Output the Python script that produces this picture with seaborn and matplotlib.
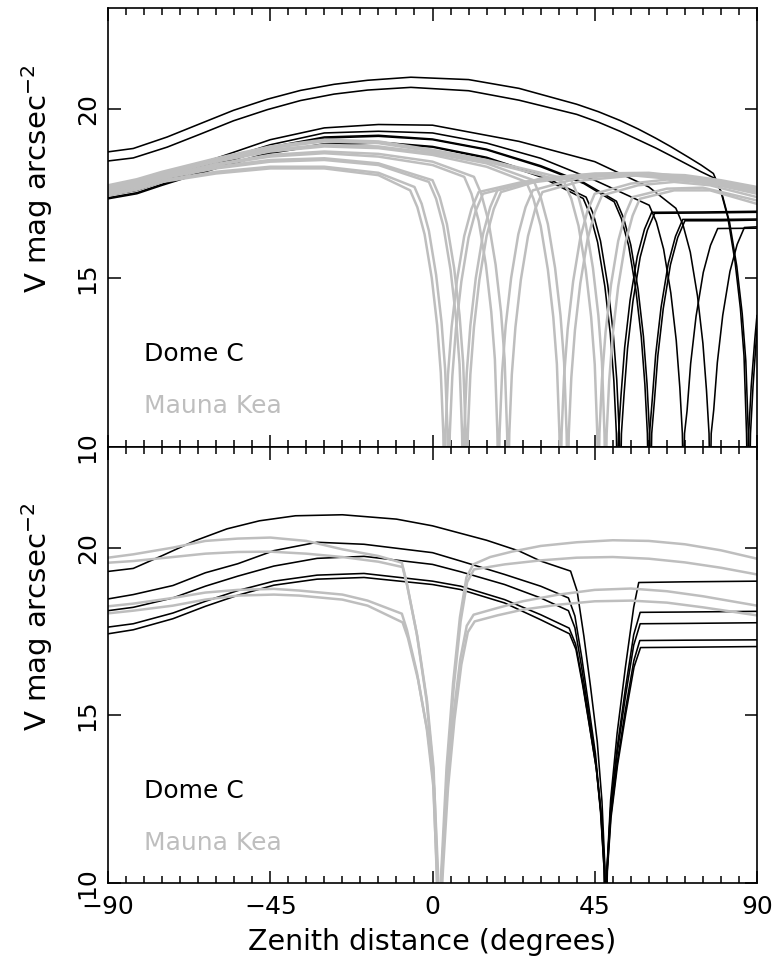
import matplotlib
matplotlib.use("Agg")
import matplotlib.pyplot as plt
import pandas as pd
import seaborn as sns
from matplotlib.ticker import MultipleLocator

# ---------------- top panel : Dome C (black) ----------------
top_dc_a_zd = [-90, -82, -75, -60, -45, -30, -15, 0, 15, 30, 41.8, 43.8, 45.8, 47.8, 49.3, 50.3, 51.0, 51.3,
               51.6, 52.3, 53.3, 54.8, 56.8, 58.8, 60.8, 75, 90]
top_dc_a_v = [17.35, 17.5, 17.75, 18.25, 18.7, 18.95, 19.0, 18.88, 18.55, 18.0, 17.36, 16.86, 16.06, 14.76,
              13.36, 11.96, 10.4, 8.5, 10.4, 11.55, 12.95, 14.35, 15.65, 16.45, 16.95, 16.96, 16.98]

top_dc_b_zd = [-90, -82, -75, -60, -45, -30, -15, 0, 15, 30, 42.6, 44.6, 46.6, 48.6, 50.1, 51.1, 51.8, 52.1,
               52.4, 53.1, 54.1, 55.6, 57.6, 59.6, 61.6, 75, 90]
top_dc_b_v = [17.38, 17.53, 17.78, 18.28, 18.72, 18.98, 19.03, 18.9, 18.58, 18.05, 17.4, 16.9, 16.1, 14.8,
              13.4, 12.0, 10.4, 8.5, 10.4, 11.52, 12.92, 14.32, 15.62, 16.42, 16.92, 16.93, 16.95]

top_dc_c_zd = [-90, -82, -75, -60, -45, -30, -15, 0, 15, 30, 42, 50.4, 52.4, 54.4, 56.4, 57.9, 58.9, 59.6,
               59.9, 60.2, 60.9, 61.9, 63.4, 65.4, 67.4, 69.4, 80, 90]
top_dc_c_v = [17.45, 17.6, 17.85, 18.35, 18.85, 19.15, 19.2, 19.1, 18.8, 18.3, 17.8, 17.26, 16.76, 15.96,
              14.66, 13.26, 11.86, 10.4, 8.5, 10.4, 11.34, 12.74, 14.14, 15.44, 16.24, 16.74, 16.74, 16.75]

top_dc_d_zd = [-90, -82, -75, -60, -45, -30, -15, 0, 15, 30, 42, 51, 53, 55, 57, 58.5, 59.5, 60.2, 60.5,
               60.8, 61.5, 62.5, 64, 66, 68, 70, 80, 90]
top_dc_d_v = [17.47, 17.62, 17.87, 18.38, 18.88, 19.18, 19.23, 19.12, 18.82, 18.33, 17.83, 17.28, 16.78,
              15.98, 14.68, 13.28, 11.88, 10.4, 8.5, 10.4, 11.3, 12.7, 14.1, 15.4, 16.2, 16.7, 16.7, 16.72]

top_dc_e_zd = [-90, -82, -75, -60, -45, -30, -15, 0, 15, 30, 45, 60.1, 62.1, 64.1, 66.1, 67.6, 68.6, 69.3,
               69.6, 69.9, 70.6, 71.6, 73.1, 75.1, 77.1, 79.1, 90]
top_dc_e_v = [17.5, 17.66, 17.95, 18.45, 18.95, 19.3, 19.35, 19.3, 19.0, 18.55, 17.9, 17.16, 16.66, 15.86,
              14.56, 13.16, 11.76, 10.4, 8.5, 10.4, 11.07, 12.47, 13.87, 15.17, 15.97, 16.47, 16.48]

top_dc_f_zd = [-90, -82, -75, -60, -45, -30, -15, 0, 24, 45, 60, 67.5, 69.5, 71.5, 73.5, 75, 76, 76.7, 77,
               77.3, 78, 79, 80.5, 82.5, 84.5, 86.5, 90]
top_dc_f_v = [17.6, 17.77, 18.05, 18.55, 19.1, 19.45, 19.55, 19.53, 19.05, 18.45, 17.7, 17.07, 16.57, 15.77,
              14.47, 13.07, 11.67, 10.4, 8.5, 10.4, 11.1, 12.5, 13.9, 15.2, 16.0, 16.5, 16.52]

top_dc_g_zd = [-90, -83, -73.6, -64.3, -55.2, -45.8, -36.6, -27.3, -18, -6, 10, 24, 40, 46, 52, 57, 62, 66,
               71, 74.5, 77.9, 79.9, 81.9, 83.9, 85.4, 86.4, 87.1, 87.4, 87.7, 88.4, 89.4, 90]
top_dc_g_v = [18.74, 18.84, 19.18, 19.58, 19.97, 20.3, 20.56, 20.74, 20.86, 20.95, 20.88, 20.62, 20.15, 19.93,
              19.67, 19.42, 19.14, 18.9, 18.58, 18.35, 18.1, 17.6, 16.8, 15.5, 14.1, 12.7, 10.4, 8.5, 10.4,
              11.8, 13.2, 13.9]

top_dc_h_zd = [-90, -83, -73.6, -64.3, -55.2, -45.8, -36.6, -27.3, -18, -6, 10, 24, 40, 46, 52, 57, 62, 66,
               71, 74.5, 78.4, 80.4, 82.4, 84.4, 85.9, 86.9, 87.6, 87.9, 88.2, 88.9, 90]
top_dc_h_v = [18.47, 18.56, 18.88, 19.27, 19.66, 19.99, 20.26, 20.45, 20.57, 20.65, 20.55, 20.27, 19.85, 19.62,
              19.35, 19.1, 18.85, 18.63, 18.35, 18.15, 17.95, 17.45, 16.65, 15.35, 13.95, 12.55, 10.4, 8.5,
              10.4, 11.8, 13.5]

# ---------------- top panel : Mauna Kea (grey) ----------------
top_mk_a_zd = [-90, -82, -75, -60, -45, -30, -15, -6.2, -4.2, -2.2, -0.2, 1.3, 2.3, 3.0, 3.3, 3.6, 4.3, 5.3,
               6.8, 8.8, 10.8, 12.8, 25, 40, 55, 70, 80, 90]
top_mk_a_v = [17.45, 17.62, 17.85, 18.1, 18.25, 18.25, 18.05, 17.6, 17.1, 16.3, 15.0, 13.6, 12.2, 10.4, 8.5,
              10.4, 12.15, 13.55, 14.95, 16.25, 17.05, 17.55, 17.85, 18.05, 18.1, 17.95, 17.8, 17.6]

top_mk_b_zd = [-90, -82, -75, -60, -45, -30, -15, -5, -3, -1, 1, 2.5, 3.5, 4.2, 4.5, 4.8, 5.5, 6.5, 8, 10,
               12, 14, 25, 40, 55, 70, 80, 90]
top_mk_b_v = [17.5, 17.67, 17.9, 18.15, 18.3, 18.3, 18.12, 17.7, 17.2, 16.4, 15.1, 13.7, 12.3, 10.4, 8.5,
              10.4, 12.1, 13.5, 14.9, 16.2, 17.0, 17.5, 17.8, 18.0, 18.05, 17.9, 17.75, 17.55]

top_mk_c_zd = [-90, -82, -75, -60, -45, -30, -15, -1, 1, 3, 5, 6.5, 7.5, 8.2, 8.5, 8.8, 9.5, 10.5, 12, 14,
               16, 18, 30, 45, 60, 75, 90]
top_mk_c_v = [17.55, 17.73, 17.95, 18.25, 18.45, 18.5, 18.35, 17.85, 17.35, 16.55, 15.25, 13.85, 12.45, 10.4,
              8.5, 10.4, 12.2, 13.6, 15.0, 16.3, 17.1, 17.6, 17.95, 18.1, 18.12, 17.95, 17.65]

top_mk_d_zd = [-90, -82, -75, -60, -45, -30, -15, 0, 2, 4, 6, 7.5, 8.5, 9.2, 9.5, 9.8, 10.5, 11.5, 13, 15,
               17, 19, 30, 45, 60, 75, 90]
top_mk_d_v = [17.55, 17.74, 17.97, 18.3, 18.5, 18.55, 18.4, 17.9, 17.4, 16.6, 15.3, 13.9, 12.5, 10.4, 8.5,
              10.4, 12.15, 13.55, 14.95, 16.25, 17.05, 17.55, 17.9, 18.05, 18.08, 17.9, 17.6]

top_mk_e_zd = [-90, -82, -75, -60, -45, -30, -15, 0, 8.8, 10.8, 12.8, 14.8, 16.3, 17.3, 18.0, 18.3, 18.6,
               19.3, 20.3, 21.8, 23.8, 25.8, 27.8, 40, 55, 70, 80, 90]
top_mk_e_v = [17.6, 17.78, 18.0, 18.35, 18.6, 18.7, 18.6, 18.35, 18.0, 17.5, 16.7, 15.4, 14.0, 12.6, 10.4,
              8.5, 10.4, 12.2, 13.6, 15.0, 16.3, 17.1, 17.6, 17.95, 18.1, 18.05, 17.9, 17.7]

top_mk_f_zd = [-90, -82, -75, -60, -45, -30, -15, 0, 11.5, 13.5, 15.5, 17.5, 19, 20, 20.7, 21, 21.3, 22,
               23, 24.5, 26.5, 28.5, 30.5, 42, 57, 70, 80, 90]
top_mk_f_v = [17.62, 17.8, 18.02, 18.38, 18.65, 18.75, 18.68, 18.45, 18.0, 17.5, 16.7, 15.4, 14.0, 12.6,
              10.4, 8.5, 10.4, 12.15, 13.55, 14.95, 16.25, 17.05, 17.55, 17.9, 18.05, 18.0, 17.85, 17.65]

top_mk_g_zd = [-90, -82, -75, -60, -45, -30, -15, 0, 15, 26, 28, 30, 32, 33.5, 34.5, 35.2, 35.5, 35.8,
               36.5, 37.5, 39, 41, 43, 45, 55, 65, 75, 90]
top_mk_g_v = [17.65, 17.83, 18.05, 18.45, 18.75, 18.9, 18.85, 18.65, 18.3, 17.85, 17.35, 16.55, 15.25,
              13.85, 12.45, 10.4, 8.5, 10.4, 12.1, 13.5, 14.9, 16.2, 17.0, 17.5, 17.8, 17.92, 17.85, 17.5]

top_mk_h_zd = [-90, -82, -75, -60, -45, -30, -15, 0, 15, 28, 30, 32, 34, 35.5, 36.5, 37.2, 37.5, 37.8,
               38.5, 39.5, 41, 43, 45, 47, 57, 67, 77, 90]
top_mk_h_v = [17.68, 17.86, 18.08, 18.48, 18.8, 18.95, 18.9, 18.7, 18.4, 17.9, 17.4, 16.6, 15.3, 13.9,
              12.5, 10.4, 8.5, 10.4, 12.05, 13.45, 14.85, 16.15, 16.95, 17.45, 17.75, 17.85, 17.75, 17.4]

top_mk_i_zd = [-90, -82, -75, -60, -45, -30, -15, 0, 15, 30, 36.5, 38.5, 40.5, 42.5, 44, 45, 45.7, 46,
               46.3, 47, 48, 49.5, 51.5, 53.5, 55.5, 65, 75, 90]
top_mk_i_v = [17.7, 17.88, 18.1, 18.5, 18.85, 19.05, 19.0, 18.75, 18.45, 18.05, 17.85, 17.35, 16.55, 15.25,
              13.85, 12.45, 10.4, 8.5, 10.4, 12.0, 13.4, 14.8, 16.1, 16.9, 17.4, 17.65, 17.68, 17.3]

top_mk_j_zd = [-90, -82, -75, -60, -45, -30, -15, 0, 15, 30, 38.5, 40.5, 42.5, 44.5, 46, 47, 47.7, 48,
               48.3, 49, 50, 51.5, 53.5, 55.5, 57.5, 67, 77, 90]
top_mk_j_v = [17.75, 17.93, 18.15, 18.55, 18.9, 19.1, 19.05, 18.8, 18.5, 18.12, 17.9, 17.4, 16.6, 15.3,
              13.9, 12.5, 10.4, 8.5, 10.4, 11.95, 13.35, 14.75, 16.05, 16.85, 17.35, 17.6, 17.6, 17.2]

# ---------------- bottom panel : Dome C (black) ----------------
bot_dc_a_zd = [-90, -83, -75, -66, -57, -48, -38, -25, -10, 0, 15, 24, 30, 38.3, 40.1, 42, 43.8, 45.7, 47,
               47.8, 48.1, 48.4, 49.4, 51.2, 53.5, 55.8, 57.2, 70, 90]
bot_dc_a_v = [19.29, 19.38, 19.76, 20.2, 20.56, 20.8, 20.95, 20.98, 20.85, 20.65, 20.22, 19.9, 19.6, 19.3,
              18.71, 17.35, 15.88, 14.21, 12.44, 10.5, 8.5, 10.45, 12.47, 14.46, 16.43, 18.22, 18.96, 18.98,
              19.0]

bot_dc_b_zd = [-90, -83, -72, -63, -54, -44, -32, -19, 0, 7.8, 20, 30, 37.7, 39.5, 41.4, 43.2, 45.2, 46.6,
               47.6, 48.0, 48.4, 49.4, 51.2, 53.5, 55.8, 57.6, 70, 90]
bot_dc_b_v = [18.47, 18.6, 18.87, 19.25, 19.52, 19.91, 20.16, 20.1, 19.85, 19.6, 19.2, 18.85, 18.5, 17.96,
              16.72, 15.37, 13.85, 12.23, 10.43, 8.5, 10.4, 12.23, 14.02, 15.79, 17.4, 18.07, 18.08, 18.1]

bot_dc_c_zd = [-90, -83, -72, -63, -54, -44, -32, -19, 0, 7.8, 20, 30, 37.7, 39.5, 41.4, 43.2, 45.2, 46.6,
               47.6, 48.0, 48.4, 49.4, 51.2, 53.5, 55.8, 57.6, 70, 90]
bot_dc_c_v = [18.12, 18.22, 18.5, 18.85, 19.15, 19.45, 19.68, 19.74, 19.5, 19.28, 18.9, 18.5, 18.12, 17.61,
              16.41, 15.13, 13.68, 12.13, 10.41, 8.5, 10.39, 12.13, 13.85, 15.55, 17.09, 17.73, 17.74, 17.76]

bot_dc_d_zd = [-90, -83, -72, -63, -54, -44, -32, -19, 0, 7.8, 20, 30, 37.9, 39.7, 41.6, 43.4, 45.4, 46.8,
               47.7, 48.05, 48.45, 49.45, 51.25, 53.55, 55.85, 57.5, 70, 90]
bot_dc_d_v = [17.63, 17.73, 18.05, 18.4, 18.72, 19.0, 19.18, 19.23, 19.0, 18.85, 18.45, 18.0, 17.6, 17.12,
              16.0, 14.8, 13.44, 11.99, 10.38, 8.5, 10.36, 12.0, 13.6, 15.19, 16.63, 17.23, 17.24, 17.25]

bot_dc_e_zd = [-90, -83, -72, -63, -54, -44, -32, -19, 0, 7.8, 20, 30, 38, 39.8, 41.7, 43.5, 45.5, 46.9,
               47.8, 48.1, 48.5, 49.5, 51.3, 53.6, 55.9, 57.7, 70, 90]
bot_dc_e_v = [17.43, 17.55, 17.88, 18.25, 18.58, 18.88, 19.06, 19.11, 18.9, 18.75, 18.35, 17.85, 17.43,
              16.96, 15.87, 14.7, 13.37, 11.95, 10.37, 8.5, 10.35, 11.94, 13.5, 15.04, 16.44, 17.02, 17.03,
              17.05]

# ---------------- bottom panel : Mauna Kea (grey) ----------------
bot_mk_a_zd = [-90, -83, -72, -63, -54, -45, -35, -25, -15, -8.5, -7.2, -4.4, -1.7, 0.1, 1.1, 1.6, 2.5,
               3.9, 5.7, 7.6, 9.4, 11.3, 16, 22, 30, 40, 50, 60, 70, 80, 90]
bot_mk_a_v = [19.7, 19.8, 20.0, 20.2, 20.27, 20.3, 20.2, 19.95, 19.75, 19.55, 18.98, 17.45, 15.48, 13.47,
              10.48, 8.5, 10.48, 13.45, 15.95, 17.92, 19.11, 19.5, 19.72, 19.88, 20.05, 20.16, 20.22, 20.2,
              20.1, 19.92, 19.67]

bot_mk_b_zd = [-90, -83, -72, -63, -54, -45, -35, -25, -15, -8.3, -7.0, -4.2, -1.5, 0.3, 1.3, 1.8, 2.7,
               4.1, 5.9, 7.8, 9.6, 11.5, 20, 30, 40, 50, 60, 70, 80, 90]
bot_mk_b_v = [19.55, 19.6, 19.72, 19.82, 19.87, 19.88, 19.82, 19.72, 19.58, 19.42, 18.85, 17.35, 15.41,
              13.42, 10.47, 8.5, 10.47, 13.39, 15.85, 17.8, 18.97, 19.35, 19.5, 19.62, 19.7, 19.72, 19.67,
              19.56, 19.4, 19.2]

bot_mk_c_zd = [-90, -83, -72, -63, -54, -44, -37, -25, -18, -8.5, -7.1, -4.3, -1.6, 0.2, 1.2, 1.7, 2.6,
               4.0, 5.8, 7.7, 9.5, 11.4, 18, 25, 35, 45, 55, 65, 75, 90]
bot_mk_c_v = [18.25, 18.33, 18.5, 18.66, 18.74, 18.77, 18.72, 18.6, 18.42, 18.03, 17.55, 16.26, 14.61,
              12.91, 10.4, 8.5, 10.4, 12.9, 15.0, 16.67, 17.67, 18.0, 18.2, 18.4, 18.6, 18.74, 18.78, 18.7,
              18.55, 18.27]

bot_mk_d_zd = [-90, -83, -72, -63, -54, -44, -37, -25, -18, -8.3, -6.8, -4.0, -1.3, 0.5, 1.5, 2.0, 2.9,
               4.3, 6.1, 8.0, 9.8, 11.7, 18, 25, 35, 45, 55, 65, 75, 90]
bot_mk_d_v = [18.04, 18.12, 18.27, 18.45, 18.57, 18.6, 18.57, 18.45, 18.27, 17.77, 17.3, 16.06, 14.46,
              12.82, 10.39, 8.5, 10.39, 12.83, 14.88, 16.51, 17.48, 17.8, 17.98, 18.15, 18.3, 18.4, 18.42,
              18.36, 18.22, 17.98]

curves = [
    ("top", "Dome C", top_dc_a_zd, top_dc_a_v),
    ("top", "Dome C", top_dc_b_zd, top_dc_b_v),
    ("top", "Dome C", top_dc_c_zd, top_dc_c_v),
    ("top", "Dome C", top_dc_d_zd, top_dc_d_v),
    ("top", "Dome C", top_dc_e_zd, top_dc_e_v),
    ("top", "Dome C", top_dc_f_zd, top_dc_f_v),
    ("top", "Dome C", top_dc_g_zd, top_dc_g_v),
    ("top", "Dome C", top_dc_h_zd, top_dc_h_v),
    ("top", "Mauna Kea", top_mk_a_zd, top_mk_a_v),
    ("top", "Mauna Kea", top_mk_b_zd, top_mk_b_v),
    ("top", "Mauna Kea", top_mk_c_zd, top_mk_c_v),
    ("top", "Mauna Kea", top_mk_d_zd, top_mk_d_v),
    ("top", "Mauna Kea", top_mk_e_zd, top_mk_e_v),
    ("top", "Mauna Kea", top_mk_f_zd, top_mk_f_v),
    ("top", "Mauna Kea", top_mk_g_zd, top_mk_g_v),
    ("top", "Mauna Kea", top_mk_h_zd, top_mk_h_v),
    ("top", "Mauna Kea", top_mk_i_zd, top_mk_i_v),
    ("top", "Mauna Kea", top_mk_j_zd, top_mk_j_v),
    ("bottom", "Dome C", bot_dc_a_zd, bot_dc_a_v),
    ("bottom", "Dome C", bot_dc_b_zd, bot_dc_b_v),
    ("bottom", "Dome C", bot_dc_c_zd, bot_dc_c_v),
    ("bottom", "Dome C", bot_dc_d_zd, bot_dc_d_v),
    ("bottom", "Dome C", bot_dc_e_zd, bot_dc_e_v),
    ("bottom", "Mauna Kea", bot_mk_a_zd, bot_mk_a_v),
    ("bottom", "Mauna Kea", bot_mk_b_zd, bot_mk_b_v),
    ("bottom", "Mauna Kea", bot_mk_c_zd, bot_mk_c_v),
    ("bottom", "Mauna Kea", bot_mk_d_zd, bot_mk_d_v),
]

frames = []
for i, (panel, site, zd, v) in enumerate(curves):
    frames.append(pd.DataFrame({"zd": zd, "vmag": v, "site": site, "panel": panel, "curve": i}))
df = pd.concat(frames, ignore_index=True)

GREY = "#bebebe"

sns.set_style("ticks", {"axes.edgecolor": "black", "text.color": "black", "axes.labelcolor": "black",
                        "xtick.color": "black", "ytick.color": "black"})
plt.rcParams["font.family"] = ["DejaVu Sans"]

fig = plt.figure(figsize=(7.76, 9.63), dpi=100)
ax_top = fig.add_axes([0.1392, 0.5358, 0.8363, 0.4559])
ax_bot = fig.add_axes([0.1392, 0.0831, 0.8363, 0.4527])

for ax, panel in [(ax_top, "top"), (ax_bot, "bottom")]:
    d = df[df.panel == panel]
    sns.lineplot(data=d[d.site == "Dome C"], x="zd", y="vmag", units="curve", estimator=None,
                 sort=False, color="black", lw=1.15, ax=ax)
    sns.lineplot(data=d[d.site == "Mauna Kea"], x="zd", y="vmag", units="curve", estimator=None,
                 sort=False, color=GREY, lw=1.8, ax=ax)
    ax.set_xlim(-90, 90)
    ax.set_ylim(10, 23)
    ax.xaxis.set_major_locator(MultipleLocator(45))
    ax.xaxis.set_minor_locator(MultipleLocator(5))
    ax.yaxis.set_major_locator(MultipleLocator(5))
    ax.tick_params(which="both", direction="in", top=True, right=True, width=1.1, labelsize=18,
                   color="black", labelcolor="black")
    ax.tick_params(which="major", length=9)
    ax.tick_params(which="minor", length=5)
    ax.tick_params(axis="y", labelrotation=90, pad=6)
    ax.tick_params(axis="x", pad=9)
    for tl in ax.get_yticklabels():
        tl.set_va("center")
    for s in ax.spines.values():
        s.set_linewidth(1.2)
        s.set_color("black")
    ax.set_ylabel("V mag arcsec$^{-2}$", fontsize=21, color="black")
    ax.yaxis.set_label_coords(-0.082, 0.61)
    ax.set_xlabel("")
    ax.text(-80, 12.75, "Dome C", color="black", fontsize=18, va="center")
    ax.text(-80, 11.2, "Mauna Kea", color=GREY, fontsize=18, va="center")

ax_top.tick_params(labelbottom=False)
ax_bot.set_xlabel("Zenith distance (degrees)", fontsize=20.5, labelpad=6, color="black")
ax_bot.set_xticks([-90, -45, 0, 45, 90])
ax_bot.set_xticklabels(["\u221290", "\u221245", "0", "45", "90"])

fig.savefig("out.png", dpi=100)
